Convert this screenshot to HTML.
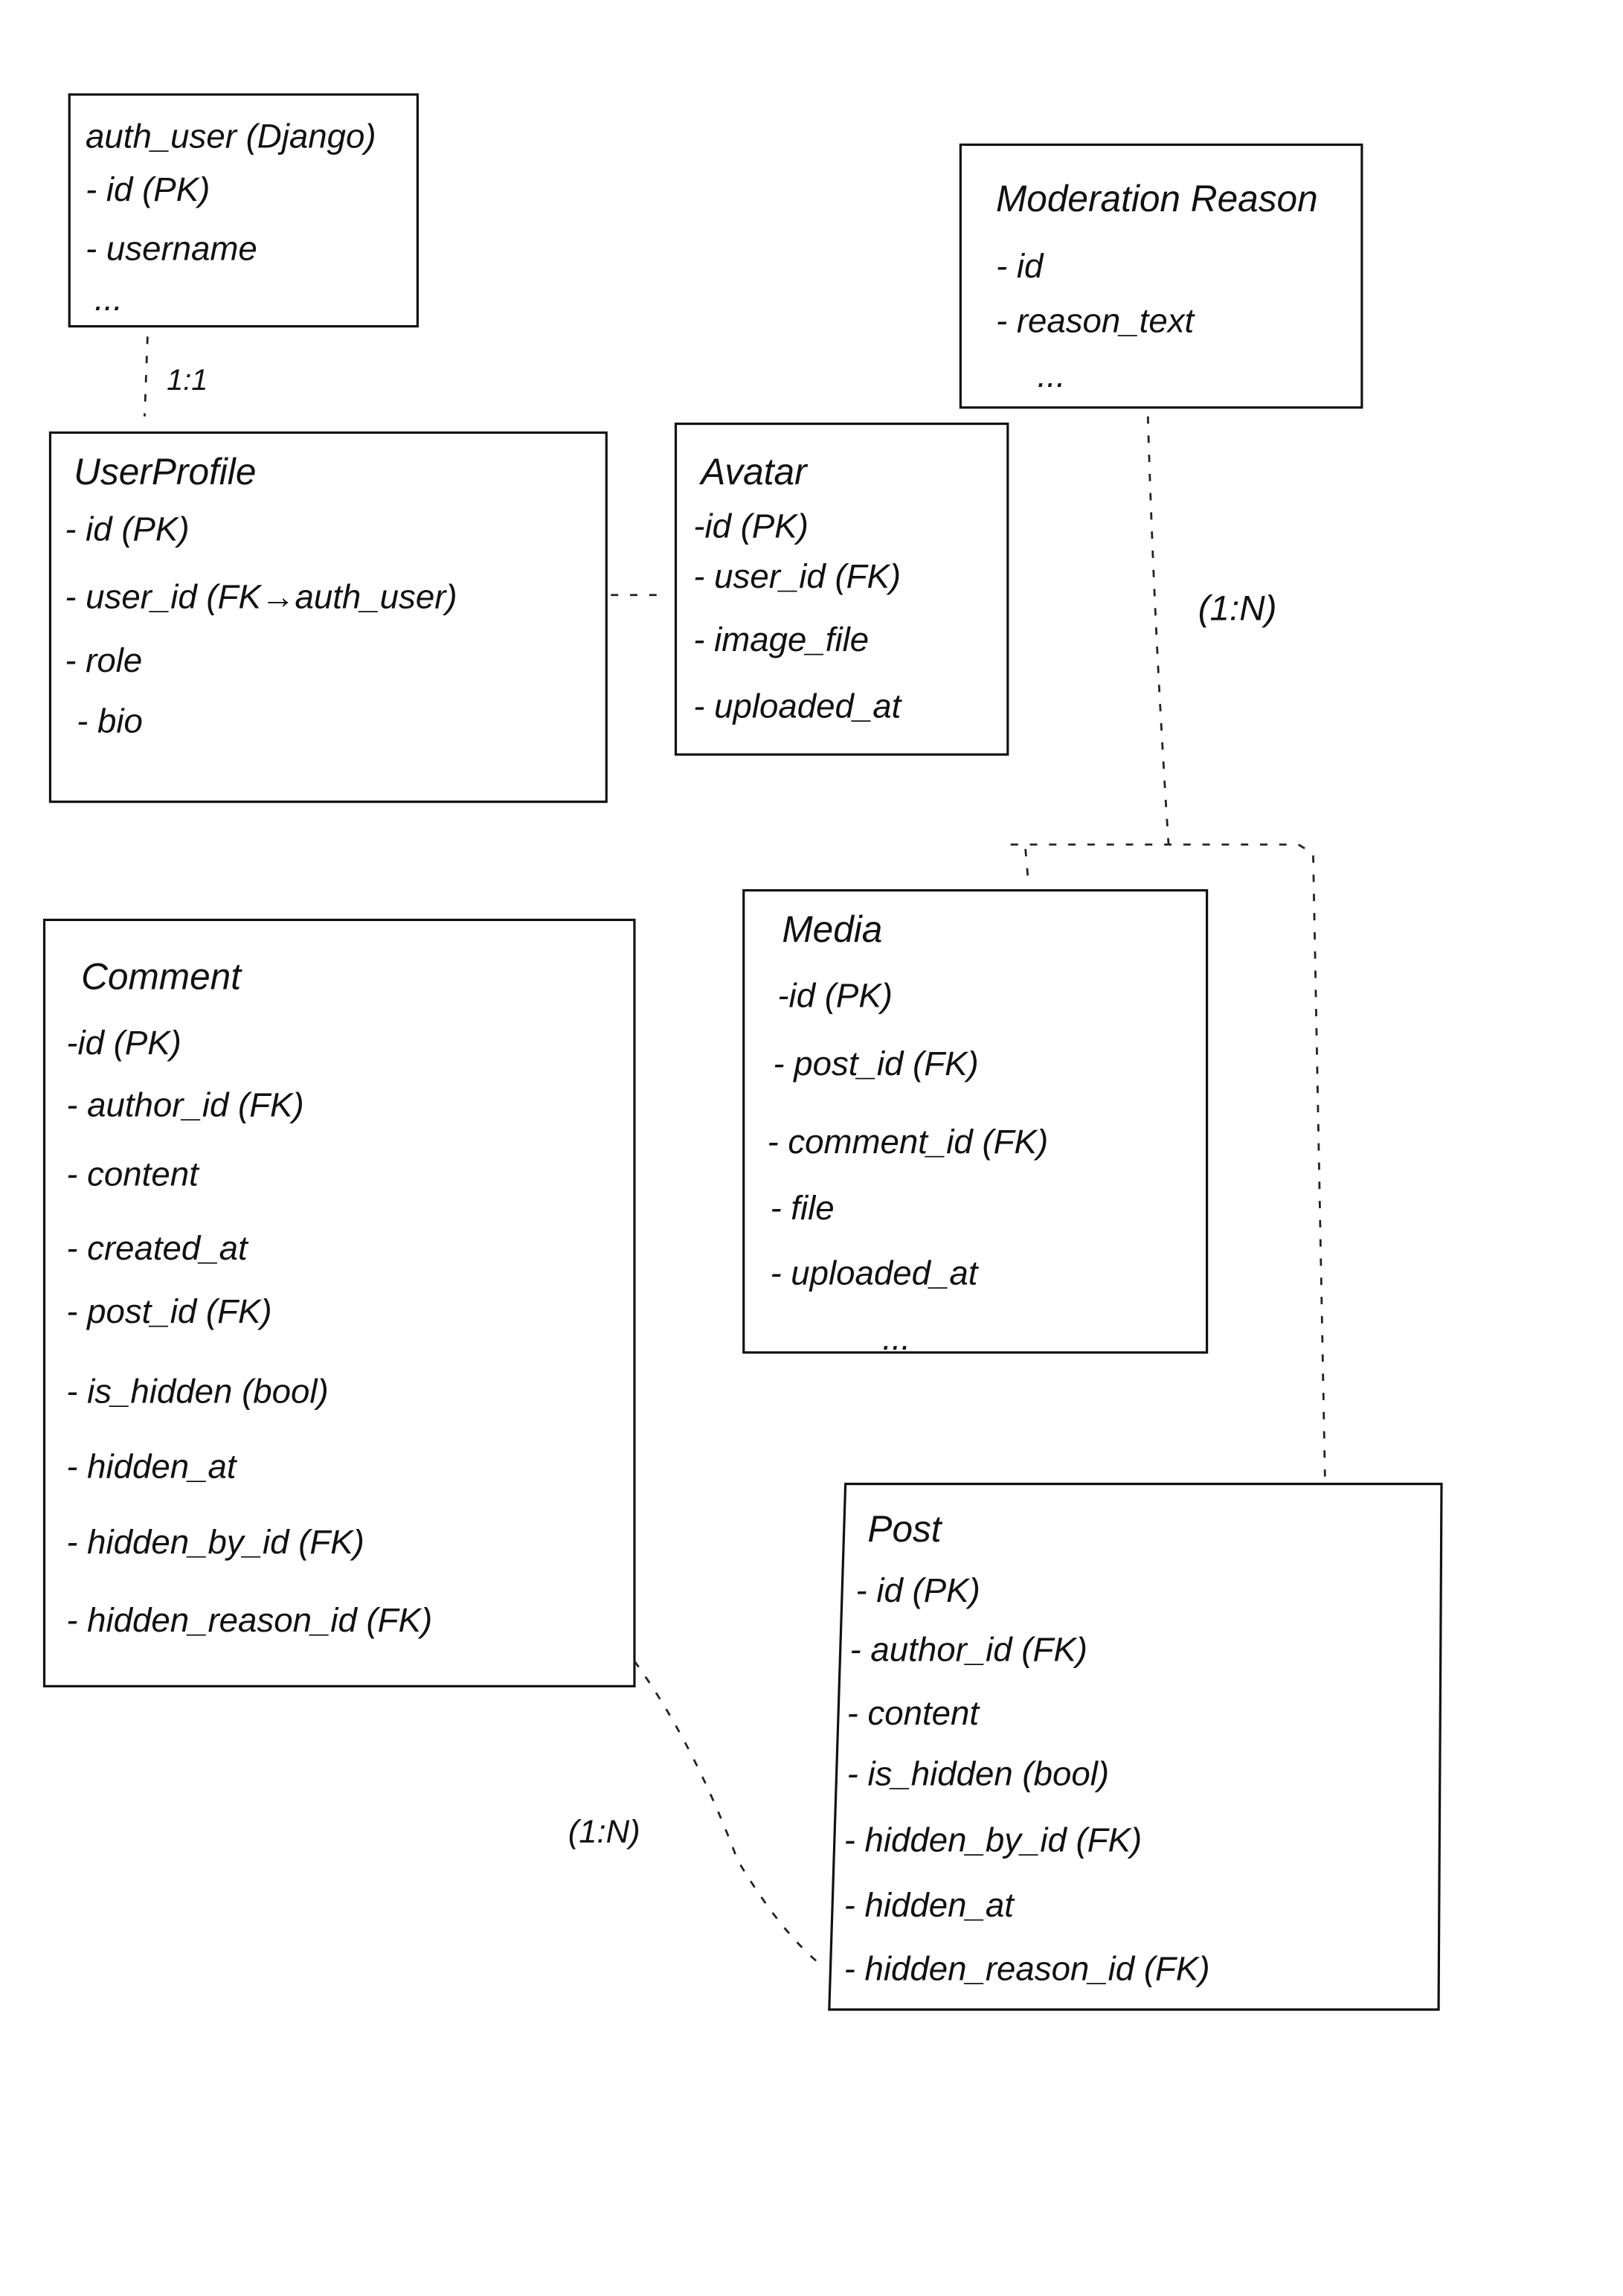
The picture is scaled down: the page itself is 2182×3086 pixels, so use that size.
<!DOCTYPE html>
<html><head><meta charset="utf-8"><style>
html,body{margin:0;padding:0;background:#fff;}
svg{display:block;}
text{font-family:"Liberation Sans",sans-serif;font-size:23px;fill:#111;font-style:italic;}
.t{font-size:25px;}
rect{fill:none;stroke:#111;stroke-width:1.6;}
.d{fill:none;stroke:#222;stroke-width:1.4;stroke-dasharray:5 8;}
</style></head><body>
<svg width="2182" height="3086" viewBox="0 0 1100 1555" preserveAspectRatio="none" xmlns="http://www.w3.org/2000/svg">
<rect x="0" y="0" width="1100" height="1555" style="fill:#fff;stroke:none"/>
<!-- auth_user -->
<rect x="47" y="64" width="236" height="157"/>
<text x="58" y="100" style="font-size:23px">auth_user (Django)</text>
<text x="58" y="136">- id (PK)</text>
<text x="58" y="176">- username</text>
<text x="64" y="210">...</text>
<!-- Moderation Reason -->
<rect x="651" y="98" width="272" height="178"/>
<text x="675" y="143" class="t">Moderation Reason</text>
<text x="675" y="188">- id</text>
<text x="675" y="225">- reason_text</text>
<text x="703" y="262">...</text>
<!-- UserProfile -->
<rect x="34" y="293" width="377" height="250"/>
<text x="50" y="328" class="t">UserProfile</text>
<text x="44" y="366">- id (PK)</text>
<text x="44" y="412">- user_id (FK→auth_user)</text>
<text x="44" y="455">- role</text>
<text x="52" y="496">- bio</text>
<!-- Avatar -->
<rect x="458" y="287" width="225" height="224"/>
<text x="475" y="328" class="t">Avatar</text>
<text x="470" y="364">-id (PK)</text>
<text x="470" y="398">- user_id (FK)</text>
<text x="470" y="441">- image_file</text>
<text x="470" y="486">- uploaded_at</text>
<!-- Comment -->
<rect x="30" y="623" width="400" height="519"/>
<text x="55" y="670" class="t">Comment</text>
<text x="45" y="714">-id  (PK)</text>
<text x="45" y="756">-  author_id (FK)</text>
<text x="45" y="803">- content</text>
<text x="45" y="853">- created_at</text>
<text x="45" y="896">- post_id (FK)</text>
<text x="45" y="950">- is_hidden (bool)</text>
<text x="45" y="1001">-  hidden_at</text>
<text x="45" y="1052">-  hidden_by_id (FK)</text>
<text x="45" y="1105">-  hidden_reason_id (FK)</text>
<!-- Media -->
<rect x="504" y="603" width="314" height="313"/>
<text x="530" y="638" class="t">Media</text>
<text x="527" y="682">-id  (PK)</text>
<text x="524" y="728">- post_id  (FK)</text>
<text x="520" y="781">- comment_id (FK)</text>
<text x="522" y="826">-  file</text>
<text x="522" y="870">- uploaded_at</text>
<text x="598" y="914">...</text>
<!-- Post -->
<polygon points="573,1005 977,1005 975,1361 562,1361" style="fill:none;stroke:#111;stroke-width:1.6"/>
<text x="588" y="1044" class="t">Post</text>
<text x="580" y="1085">- id (PK)</text>
<text x="576" y="1125">- author_id (FK)</text>
<text x="574" y="1168">- content</text>
<text x="574" y="1209">- is_hidden (bool)</text>
<text x="572" y="1254">- hidden_by_id (FK)</text>
<text x="572" y="1298">- hidden_at</text>
<text x="572" y="1341">- hidden_reason_id (FK)</text>
<!-- connectors -->
<path class="d" d="M100,228 L98,282"/>
<text x="113" y="264" style="font-size:20px">1:1</text>
<path class="d" d="M414,403 L450,403"/>
<path class="d" d="M778,282 Q782,420 792,572"/>
<text x="812" y="420" style="font-size:24px">(1:N)</text>
<path class="d" d="M685,572 L880,572 L890,578 L898,1000"/>
<path class="d" d="M695,575 L697,598"/>
<path class="d" d="M430,1125 Q470,1180 500,1260 Q530,1310 558,1332"/>
<text x="385" y="1248" style="font-size:22px">(1:N)</text>
</svg>
</body></html>
